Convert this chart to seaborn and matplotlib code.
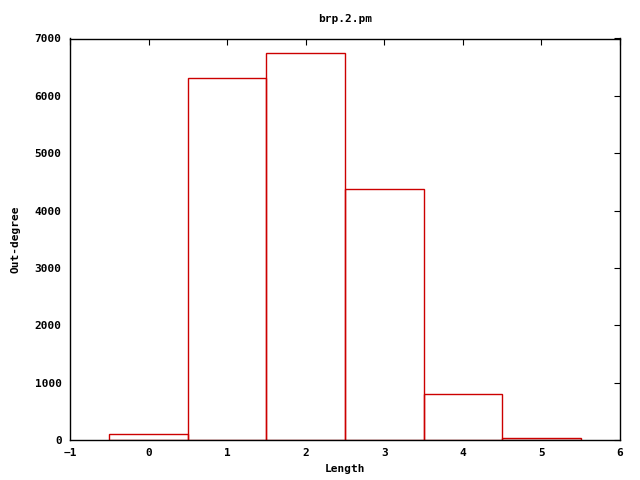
import matplotlib
matplotlib.use("Agg")
import matplotlib.pyplot as plt
import seaborn as sns
import pandas as pd

lengths = [0, 1, 2, 3, 4, 5]
counts = [105, 6303, 6744, 4376, 803, 35]
x_ticks = [-1, 0, 1, 2, 3, 4, 5, 6]
y_ticks = [0, 1000, 2000, 3000, 4000, 5000, 6000, 7000]

sns.set_style("white")
plt.rcParams['font.family'] = ['DejaVu Sans Mono']
plt.rcParams['font.weight'] = 'bold'
plt.rcParams['text.color'] = 'black'
plt.rcParams['axes.labelcolor'] = 'black'

df = pd.DataFrame({"Length": lengths, "count": counts})

fig = plt.figure(figsize=(6.4, 4.8), dpi=100)
ax = fig.add_axes([70/640, 40/480, 550/640, 401.5/480])
sns.histplot(data=df, x="Length", weights="count", discrete=True, fill=False,
             element="bars", color="#cc0000", linewidth=1.0, ax=ax)

ax.set_xlim(-1, 6)
ax.set_ylim(0, 7000)
ax.set_xticks(x_ticks)
ax.set_yticks(y_ticks)
ax.tick_params(direction="in", top=True, right=True, length=4, width=0.8,
               labelsize=8, colors="black", labelcolor="black", pad=6)
for s in ax.spines.values():
    s.set_color("black")
    s.set_linewidth(1.0)
ax.set_xlabel("Length", fontsize=8, fontweight="bold", color="black")
ax.set_ylabel("Out-degree", fontsize=8, fontweight="bold", labelpad=10, color="black")
ax.set_title("brp.2.pm", fontsize=8, fontweight="bold", pad=12, color="black")

fig.savefig("out.png", dpi=100)
